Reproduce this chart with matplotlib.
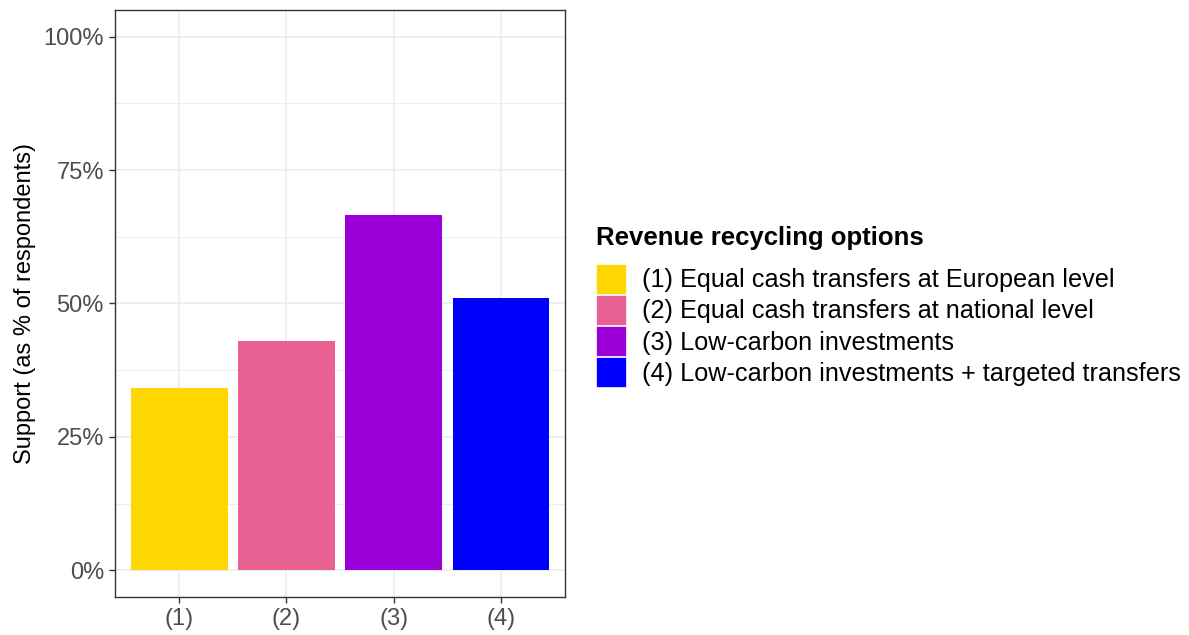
import matplotlib
matplotlib.use("Agg")
import matplotlib.pyplot as plt
from matplotlib.patches import Patch
from matplotlib.ticker import FuncFormatter

# data
categories = ["(1)", "(2)", "(3)", "(4)"]
support = [0.341, 0.429, 0.666, 0.510]
labels = [
    "(1) Equal cash transfers at European level",
    "(2) Equal cash transfers at national level",
    "(3) Low-carbon investments",
    "(4) Low-carbon investments + targeted transfers",
]
colors = ["#FFD700", "#E86192", "#9B00D8", "#0000FF"]

plt.rcParams["font.family"] = ["Liberation Sans", "DejaVu Sans"]

fig = plt.figure(figsize=(11.89, 6.35), dpi=100)
ax = fig.add_axes([115 / 1189, 1 - 597 / 635, 450 / 1189, 587 / 635])

x = range(1, len(categories) + 1)
ax.bar(x, support, width=0.9, color=colors, zorder=3)

ax.set_xlim(0.4, 4.6)
ax.set_ylim(-0.05, 1.05)
ax.set_xticks(list(x))
ax.set_xticklabels(categories)
ax.set_yticks([0, 0.25, 0.5, 0.75, 1.0])
ax.set_yticks([0.125, 0.375, 0.625, 0.875], minor=True)
ax.yaxis.set_major_formatter(FuncFormatter(lambda v, p: "{:.0f}%".format(v * 100)))

ax.grid(True, which="major", color="#EBEBEB", linewidth=1.1, zorder=0)
ax.grid(True, which="minor", axis="y", color="#EBEBEB", linewidth=0.6, zorder=0)
for s in ax.spines.values():
    s.set_color("#333333")
    s.set_linewidth(1.0)

ax.tick_params(axis="both", which="major", colors="#333333", labelcolor="#4D4D4D",
               labelsize=17, length=4, width=1, pad=4)
ax.tick_params(axis="y", which="minor", length=0)
ax.set_ylabel("Support (as % of respondents)", fontsize=17, color="black", labelpad=5)

handles = [Patch(facecolor=c, edgecolor="white", linewidth=0.5) for c in colors]
leg = fig.legend(handles, labels, loc="center left", bbox_to_anchor=(0.4925, 0.517),
                 frameon=False, fontsize=18.2, title="Revenue recycling options",
                 title_fontproperties={"weight": "bold", "size": 18.5},
                 handlelength=1.2, handleheight=1.47, labelspacing=0.03,
                 handletextpad=0.62, borderaxespad=0)
leg._legend_box.align = "left"
leg._legend_box.sep = 10

fig.savefig("out.png", dpi=100)
